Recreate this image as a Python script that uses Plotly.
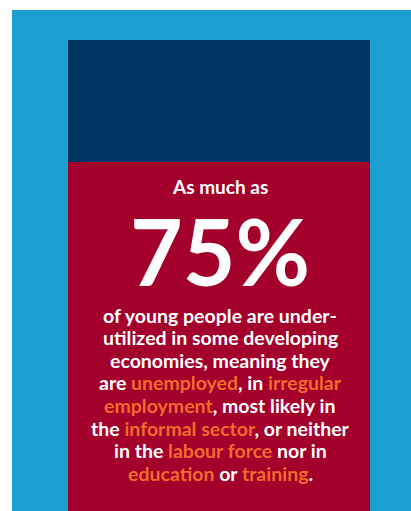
import plotly.graph_objects as go

# ---- content ----
headline = "As much as"
percent_value = 75
body_lines = [
    [("of young people are under-", "w")],
    [("utilized in some developing", "w")],
    [("economies, meaning they", "w")],
    [("are ", "w"), ("unemployed", "o"), (", in ", "w"), ("irregular", "o")],
    [("employment", "o"), (", most likely in", "w")],
    [("the ", "w"), ("informal sector", "o"), (", or neither", "w")],
    [("in the ", "w"), ("labour force", "o"), (" nor in", "w")],
    [("education", "o"), (" or ", "w"), ("training", "o"), (".", "w")],
]

W, H = 411, 511
LIGHT_BLUE = "#1B9FD0"
NAVY = "#003462"
CRIMSON = "#A3002B"
ORANGE = "#F26A2E"
WHITE = "#FFFFFF"
FONT = "Lato"

fig = go.Figure()
fig.add_trace(go.Scatter(x=[0, W], y=[0, H], mode="markers",
                         marker=dict(opacity=0), hoverinfo="skip", showlegend=False))

shapes = [
    dict(type="rect", x0=12, x1=W + 1, y0=10, y1=H + 1, fillcolor=LIGHT_BLUE, line=dict(width=0), layer="below"),
    dict(type="rect", x0=68, x1=370, y0=40, y1=162, fillcolor=NAVY, line=dict(width=0), layer="below"),
    dict(type="rect", x0=68, x1=370, y0=162, y1=H + 1, fillcolor=CRIMSON, line=dict(width=0), layer="below"),
]

cx = 220
annotations = [
    dict(x=cx, y=186, text=headline, showarrow=False, xanchor="center", yanchor="middle",
         font=dict(family=FONT, size=19, color=WHITE, weight="bold")),
    dict(x=cx, y=250, text=f"{percent_value}%", showarrow=False, xanchor="center", yanchor="middle",
         font=dict(family=FONT, size=91, color=WHITE, weight="bold")),
]

y0, dy = 315, 22.6
for i, parts in enumerate(body_lines):
    txt = "".join(
        f"<span style='color:{ORANGE if c == 'o' else WHITE}'>{s}</span>" for s, c in parts
    )
    annotations.append(dict(x=cx, y=y0 + i * dy, text=txt, showarrow=False,
                            xanchor="center", yanchor="middle",
                            font=dict(family=FONT, size=19.5, color=WHITE, weight="bold")))

fig.update_layout(
    width=W, height=H, margin=dict(l=0, r=0, t=0, b=0),
    paper_bgcolor="white", plot_bgcolor="white",
    xaxis=dict(range=[0, W], visible=False, fixedrange=True),
    yaxis=dict(range=[H, 0], visible=False, fixedrange=True),
    shapes=shapes, annotations=annotations, showlegend=False,
)
fig.write_html(
    "out.html", config={"displayModeBar": False},
    post_script=(
        "document.body.style.margin='0';document.body.style.overflow='hidden';"
        "document.documentElement.style.overflow='hidden';"
        f"document.body.style.background='{LIGHT_BLUE}';"
        f"document.documentElement.style.background='{LIGHT_BLUE}';"
    ),
)
